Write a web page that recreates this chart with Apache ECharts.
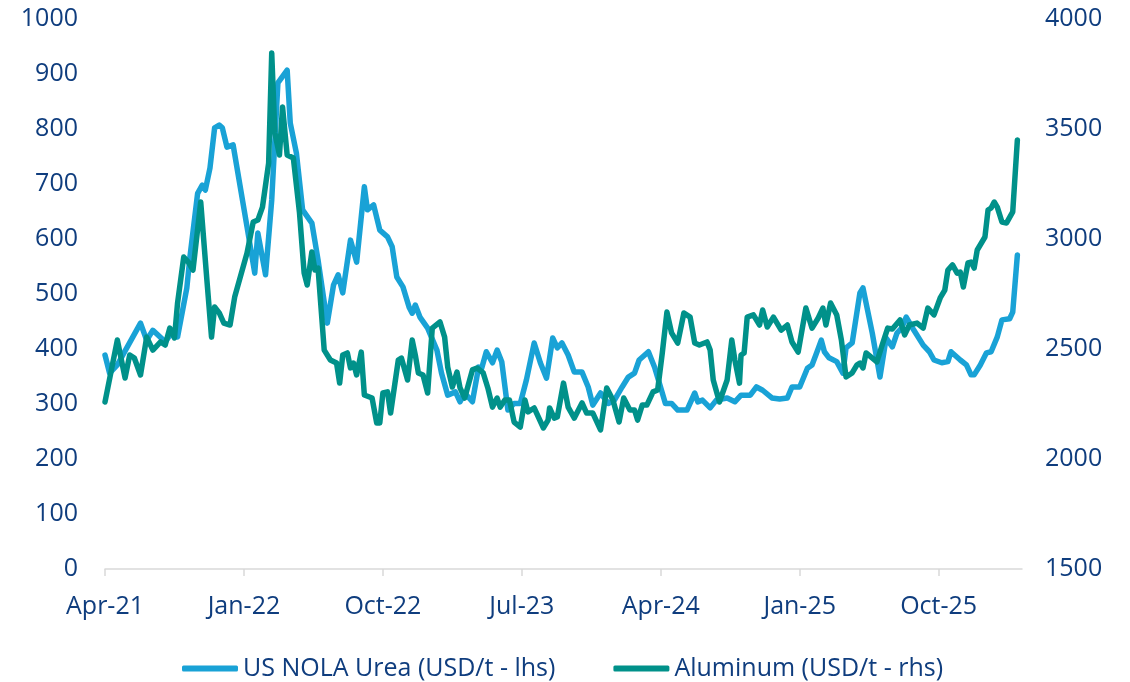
<!DOCTYPE html>
<html>
<head>
<meta charset="utf-8">
<script src="https://cdn.jsdelivr.net/npm/echarts@6/dist/echarts.min.js"></script>
<style>
  html, body { margin: 0; padding: 0; background: #fff; }
  #chart { width: 1130px; height: 682px; }
</style>
</head>
<body>
<div id="chart"></div>
<script>
// x values are months since Apr-21
var tickLabels = ['Apr-21', 'Jan-22', 'Oct-22', 'Jul-23', 'Apr-24', 'Jan-25', 'Oct-25']
var tickMonths = [0, 9, 18, 27, 36, 45, 54]

var ureaMonths = [0.0, 0.3, 0.8, 2.3, 2.7, 3.1, 3.9, 4.3, 4.7, 5.3, 5.5, 6.0, 6.3, 6.5, 6.8, 7.1, 7.4, 7.6, 7.9, 8.3,
  9.2, 9.7, 9.9, 10.4, 10.8, 11.2, 11.8, 12.0, 12.4, 12.8, 13.4, 13.8, 14.4, 14.8, 15.1, 15.4, 15.9, 16.3, 16.8, 17.0,
  17.4, 17.8, 18.3, 18.6, 18.9, 19.3, 19.7, 19.9, 20.1, 20.4, 20.9, 21.5, 21.8, 22.2, 22.7, 23.0, 23.3, 23.8, 24.2, 24.4,
  24.7, 25.1, 25.4, 25.7, 26.1, 26.5, 26.9, 27.3, 27.8, 28.2, 28.6, 29.0, 29.3, 29.6, 30.0, 30.4, 30.9, 31.3, 31.6, 32.1,
  32.6, 33.0, 33.5, 33.9, 34.3, 34.6, 35.2, 35.6, 36.1, 36.3, 36.7, 37.1, 37.7, 38.2, 38.4, 38.7, 39.2, 39.6, 40.3, 40.8,
  41.2, 41.8, 42.2, 42.6, 43.2, 43.7, 44.2, 44.5, 45.0, 45.5, 45.8, 46.1, 46.4, 46.6, 46.9, 47.4, 47.8, 48.0, 48.4, 48.9,
  49.1, 49.7, 50.2, 50.6, 51.0, 51.3, 51.6, 51.9, 52.4, 53.0, 53.4, 53.7, 54.2, 54.6, 54.8, 55.4, 55.8, 56.1, 56.3, 56.7,
  57.1, 57.4, 57.8, 58.1, 58.6, 58.8, 59.1]
var ureaValues = [389, 356, 371, 447, 416, 434, 413, 429, 422, 511, 567, 683, 698, 689, 729, 802, 807, 802, 767, 771,
  622, 538, 611, 535, 671, 884, 907, 811, 756, 653, 629, 562, 447, 516, 535, 502, 598, 558, 695, 653,
  662, 616, 604, 586, 531, 513, 476, 465, 480, 458, 438, 398, 356, 316, 322, 304, 320, 304, 367, 365,
  395, 375, 398, 377, 289, 301, 301, 344, 411, 375, 347, 420, 402, 411, 389, 358, 358, 331, 298, 320,
  301, 307, 331, 349, 356, 380, 395, 367, 320, 301, 301, 289, 289, 320, 304, 307, 293, 307, 311, 304,
  316, 316, 331, 325, 311, 309, 311, 331, 331, 365, 371, 393, 416, 395, 384, 377, 356, 402, 411, 502,
  511, 429, 349, 420, 404, 429, 438, 458, 434, 407, 395, 380, 375, 377, 395, 380, 371, 353, 353, 371,
  393, 395, 422, 453, 455, 467, 571]

var aluMonths = [0.0, 0.8, 1.3, 1.6, 1.9, 2.3, 2.7, 3.1, 3.6, 3.9, 4.2, 4.5, 4.7, 5.1, 5.4, 5.7, 6.2, 6.6, 6.9, 7.1,
  7.4, 7.7, 8.1, 8.4, 9.2, 9.6, 9.9, 10.2, 10.6, 10.8, 11.0, 11.3, 11.5, 11.8, 12.2, 12.6, 12.9, 13.1, 13.4, 13.6,
  13.8, 14.2, 14.6, 15.0, 15.2, 15.4, 15.7, 15.9, 16.1, 16.3, 16.6, 16.8, 17.3, 17.6, 17.8, 18.0, 18.3, 18.5, 18.6, 19.0,
  19.2, 19.6, 19.9, 20.1, 20.3, 20.6, 20.9, 21.2, 21.7, 22.0, 22.2, 22.5, 22.8, 23.0, 23.3, 23.8, 24.1, 24.5, 24.8, 25.1,
  25.4, 25.6, 25.9, 26.2, 26.5, 26.9, 27.2, 27.4, 27.8, 28.4, 28.7, 28.8, 29.1, 29.3, 29.7, 30.0, 30.4, 30.9, 31.2, 31.6,
  32.1, 32.5, 32.9, 33.3, 33.6, 34.0, 34.3, 34.5, 34.8, 35.1, 35.5, 35.8, 36.1, 36.4, 36.7, 37.1, 37.5, 37.9, 38.2, 38.5,
  39.0, 39.2, 39.4, 39.8, 40.3, 40.6, 40.8, 41.1, 41.2, 41.4, 41.6, 42.0, 42.4, 42.6, 42.9, 43.3, 43.8, 44.2, 44.5, 44.9,
  45.4, 45.8, 46.2, 46.5, 46.7, 47.0, 47.4, 47.7, 48.0, 48.4, 48.7, 48.9, 49.1, 49.3, 50.0, 50.3, 50.7, 51.0, 51.5, 51.8,
  52.1, 52.6, 53.0, 53.3, 53.7, 54.1, 54.4, 54.6, 54.9, 55.2, 55.4, 55.6, 55.9, 56.1, 56.3, 56.5, 57.0, 57.2, 57.4, 57.6,
  57.8, 58.1, 58.4, 58.8, 59.1]
var aluValues = [2259, 2541, 2368, 2473, 2459, 2382, 2554, 2495, 2532, 2518, 2595, 2550, 2709, 2918, 2895, 2859, 3168, 2814, 2554, 2691,
  2664, 2618, 2609, 2736, 2936, 3077, 3086, 3145, 3345, 3845, 3482, 3382, 3600, 3382, 3368, 3118, 2845, 2791, 2941, 2859,
  2868, 2495, 2450, 2436, 2345, 2473, 2482, 2414, 2436, 2382, 2486, 2291, 2277, 2164, 2164, 2300, 2305, 2209, 2209, 2450,
  2459, 2359, 2541, 2473, 2391, 2382, 2300, 2595, 2623, 2554, 2418, 2327, 2395, 2323, 2277, 2405, 2414, 2391, 2323, 2236,
  2277, 2236, 2268, 2268, 2168, 2145, 2268, 2214, 2232, 2141, 2177, 2232, 2186, 2191, 2345, 2236, 2186, 2255, 2209, 2209,
  2132, 2323, 2268, 2168, 2277, 2223, 2223, 2177, 2245, 2245, 2305, 2314, 2482, 2668, 2573, 2527, 2664, 2645, 2527, 2518,
  2532, 2495, 2359, 2259, 2359, 2541, 2450, 2345, 2473, 2482, 2645, 2655, 2609, 2677, 2600, 2645, 2586, 2609, 2532, 2486,
  2686, 2595, 2641, 2686, 2609, 2709, 2655, 2541, 2373, 2391, 2427, 2436, 2414, 2482, 2441, 2509, 2595, 2591, 2632, 2564,
  2609, 2618, 2595, 2686, 2655, 2732, 2768, 2859, 2882, 2845, 2850, 2782, 2891, 2895, 2868, 2950, 3009, 3132, 3141, 3168,
  3145, 3077, 3073, 3123, 3450]

function pairs (xs, ys) {
  return xs.map(function (x, i) { return [x, ys[i]] })
}
function plain (v) { return String(v) }

var textColor = '#0f3d7e'
var font = 'Open Sans'
var fs = 25

var chart = echarts.init(document.getElementById('chart'), null, { renderer: 'canvas' })
chart.setOption({
  animation: false,
  grid: { left: 105, right: 108, top: 19, bottom: 113 },
  legend: {
    top: 651,
    left: 177,
    icon: 'roundRect',
    itemWidth: 56,
    itemHeight: 6,
    itemGap: 58,
    textStyle: { color: textColor, fontSize: fs, fontFamily: font },
    data: ['US NOLA Urea (USD/t - lhs)', 'Aluminum (USD/t - rhs)']
  },
  xAxis: {
    type: 'value',
    min: 0,
    max: 59.4,
    splitLine: { show: false },
    axisLine: { lineStyle: { color: '#d9d9d9', width: 1.5 } },
    axisTick: { show: true, length: 7, customValues: tickMonths, lineStyle: { color: '#d9d9d9', width: 1.5 } },
    axisLabel: {
      customValues: tickMonths,
      margin: 25,
      color: textColor,
      fontSize: fs,
      fontFamily: font,
      formatter: function (v) { return tickLabels[Math.round(v / 9)] }
    }
  },
  yAxis: [{
    type: 'value',
    min: 0,
    max: 1000,
    interval: 100,
    splitLine: { show: false },
    axisLine: { show: false },
    axisTick: { show: false },
    axisLabel: { margin: 27, color: textColor, fontSize: fs, fontFamily: font, formatter: plain }
  }, {
    type: 'value',
    min: 1500,
    max: 4000,
    interval: 500,
    splitLine: { show: false },
    axisLine: { show: false },
    axisTick: { show: false },
    axisLabel: { margin: 23, color: textColor, fontSize: fs, fontFamily: font, formatter: plain }
  }],
  series: [{
    name: 'US NOLA Urea (USD/t - lhs)',
    type: 'line',
    yAxisIndex: 0,
    showSymbol: false,
    color: '#19a2d6',
    lineStyle: { width: 5.5, color: '#19a2d6', cap: 'round', join: 'round' },
    data: pairs(ureaMonths, ureaValues)
  }, {
    name: 'Aluminum (USD/t - rhs)',
    type: 'line',
    yAxisIndex: 1,
    showSymbol: false,
    color: '#00918a',
    lineStyle: { width: 5.5, color: '#00918a', cap: 'round', join: 'round' },
    data: pairs(aluMonths, aluValues)
  }]
})
</script>
</body>
</html>
